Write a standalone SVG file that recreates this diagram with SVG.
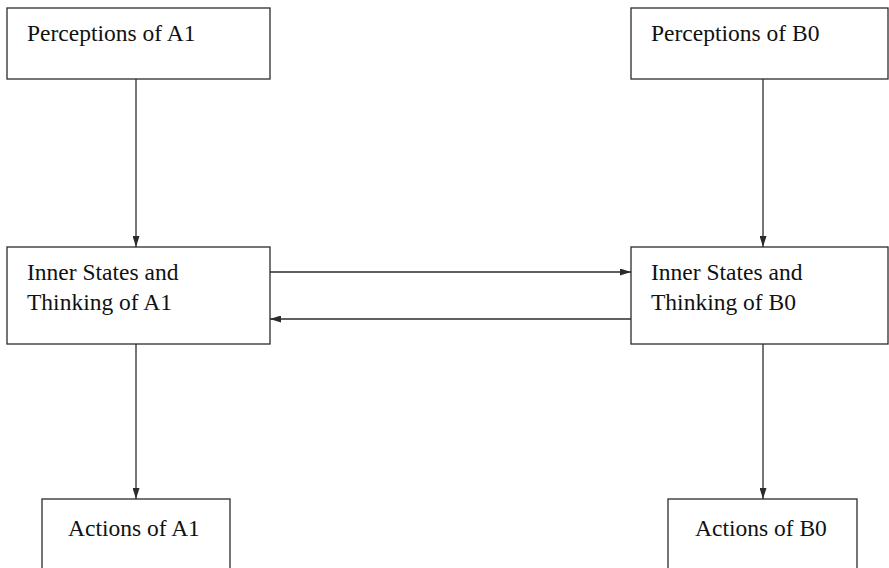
<svg xmlns="http://www.w3.org/2000/svg" width="889" height="568" viewBox="0 0 889 568">
  <style>
    .box { fill: #ffffff; stroke: #2b2b2b; stroke-width: 1.3; }
    .lbl { font-family: "Liberation Serif", "Times New Roman", serif; font-size: 23.5px; fill: #111111; }
    .conn { fill: none; stroke: #2b2b2b; stroke-width: 1.3; }
  </style>
  <defs>
    <marker id="arrow" viewBox="0 0 11 7" refX="11" refY="3.5" markerWidth="11" markerHeight="7" markerUnits="userSpaceOnUse" orient="auto">
      <path d="M0,0 L11,3.5 L0,7 Z" fill="#2b2b2b"/>
    </marker>
  </defs>
  <rect width="889" height="568" fill="#ffffff"/>

  <g id="perceptions-a1">
    <rect class="box" x="7" y="8" width="263" height="71"/>
    <text class="lbl" x="27" y="41">Perceptions of A1</text>
  </g>
  <g id="perceptions-b0">
    <rect class="box" x="631" y="8" width="257" height="71"/>
    <text class="lbl" x="651" y="41">Perceptions of B0</text>
  </g>
  <g id="inner-a1">
    <rect class="box" x="7" y="247" width="263" height="97"/>
    <text class="lbl" x="27" y="280">Inner States and</text>
    <text class="lbl" x="27" y="310">Thinking of A1</text>
  </g>
  <g id="inner-b0">
    <rect class="box" x="631" y="247" width="257" height="97"/>
    <text class="lbl" x="651" y="280">Inner States and</text>
    <text class="lbl" x="651" y="310">Thinking of B0</text>
  </g>
  <g id="actions-a1">
    <rect class="box" x="42" y="499" width="188" height="75"/>
    <text class="lbl" x="68" y="536">Actions of A1</text>
  </g>
  <g id="actions-b0">
    <rect class="box" x="668" y="499" width="189" height="75"/>
    <text class="lbl" x="695" y="536">Actions of B0</text>
  </g>

  <g id="connectors">
    <line class="conn" x1="136" y1="79" x2="136" y2="247" marker-end="url(#arrow)"/>
    <line class="conn" x1="763" y1="79" x2="763" y2="247" marker-end="url(#arrow)"/>
    <line class="conn" x1="270" y1="272" x2="631" y2="272" marker-end="url(#arrow)"/>
    <line class="conn" x1="631" y1="319" x2="270" y2="319" marker-end="url(#arrow)"/>
    <line class="conn" x1="136" y1="344" x2="136" y2="499" marker-end="url(#arrow)"/>
    <line class="conn" x1="763" y1="344" x2="763" y2="499" marker-end="url(#arrow)"/>
  </g>
</svg>
